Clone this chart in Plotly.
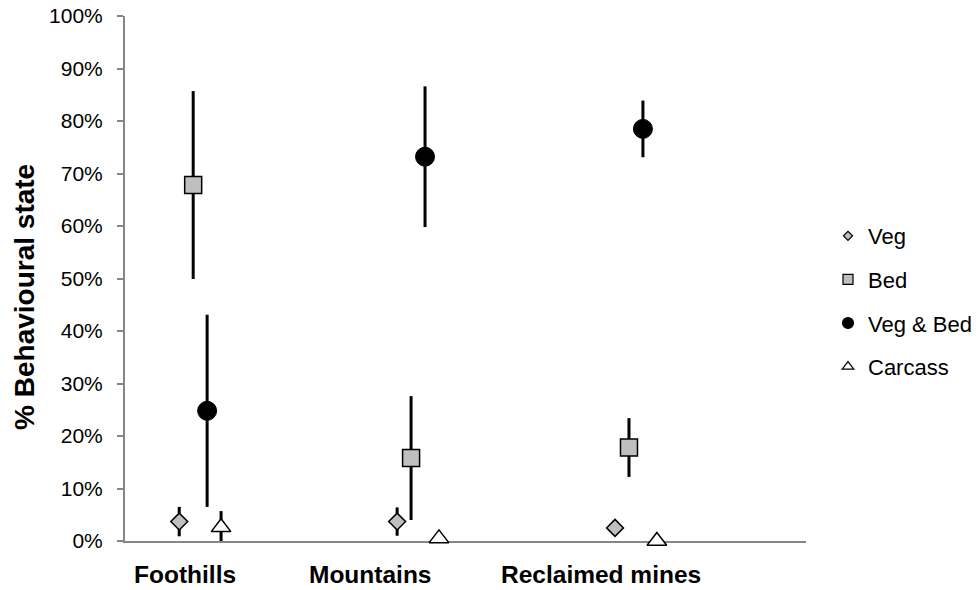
import plotly.graph_objects as go

# ---- data (percent) ----
regions = ["Foothills", "Mountains", "Reclaimed mines"]
region_index = [1, 2, 3]
series_names = ["Veg", "Bed", "Veg & Bed", "Carcass"]
series_offsets = [-0.096, -0.032, 0.032, 0.096]

veg_mean = [3.7, 3.7, 2.5]
veg_err = [2.8, 2.7, 0.8]
bed_mean = [67.8, 15.8, 17.8]
bed_err = [17.9, 11.8, 5.6]
vegbed_mean = [24.8, 73.2, 78.5]
vegbed_err = [18.3, 13.4, 5.4]
carcass_mean = [2.6, 0.5, 0.0]
carcass_err = [3.1, 0.0, 0.0]

label_positions = [0.930, 1.782, 2.840]  # category label centres on x scale
y_ticks = list(range(0, 101, 10))
y_tick_text = [f"{v}%" for v in y_ticks]

means = [veg_mean, bed_mean, vegbed_mean, carcass_mean]
errs = [veg_err, bed_err, vegbed_err, carcass_err]

styles = [
    dict(symbol="diamond", size=13, color="#BFBFBF", lw=1.5, lsize=7),
    dict(symbol="square", size=17, color="#BFBFBF", lw=1.5, lsize=10),
    dict(symbol="circle", size=19, color="#000000", lw=1, lsize=11),
    dict(symbol="triangle-up", size=17, color="#FFFFFF", lw=1.5, lsize=10),
]

FONT = "Liberation Sans, Arial, sans-serif"
fig = go.Figure()

for name, off, m, e, st in zip(series_names, series_offsets, means, errs, styles):
    xs = [r + off for r in region_index]
    fig.add_trace(go.Scatter(
        x=xs, y=m, mode="markers", name=name, showlegend=False,
        cliponaxis=False,
        marker=dict(symbol=st["symbol"], size=st["size"], color=st["color"],
                    line=dict(color="#000000", width=st["lw"])),
        error_y=dict(type="data", array=e, visible=True, color="#000000",
                     thickness=3, width=0),
    ))

# legend entries (smaller symbols, as in the reference)
for i, (name, st) in enumerate(zip(series_names, styles)):
    fig.add_trace(go.Scatter(
        x=[None], y=[None], mode="markers", name=name, legendgroup=f"g{i}",
        marker=dict(symbol=st["symbol"], size=st["lsize"], color=st["color"],
                    line=dict(color="#000000", width=1.2)),
    ))

for lbl, xp in zip(regions, label_positions):
    fig.add_annotation(x=xp, xref="x", y=0, yref="paper", yshift=-33,
                       text=f"<b>{lbl}</b>", showarrow=False,
                       font=dict(family=FONT, size=24.5, color="#000000"),
                       xanchor="center", yanchor="middle")

# y-axis title as rotated text
fig.add_annotation(x=-0.1468, xref="paper", y=0.465, yref="paper",
                   text="<b>% Behavioural state</b>", showarrow=False,
                   textangle=-90, font=dict(family=FONT, size=28, color="#000000"),
                   xanchor="center", yanchor="middle")

fig.update_layout(
    width=980, height=590,
    margin=dict(l=125, r=174, t=16, b=49, autoexpand=False),
    paper_bgcolor="white", plot_bgcolor="white",
    font=dict(family=FONT, size=21, color="#000000"),
    showlegend=True,
    legend=dict(x=1.0323, xanchor="left", y=0.621, yanchor="top",
                traceorder="grouped", tracegroupgap=12,
                font=dict(family=FONT, size=22, color="#000000"),
                bgcolor="rgba(0,0,0,0)"),
    xaxis=dict(range=[0.6551, 3.7804], showline=True, linecolor="#868686",
               linewidth=2, showgrid=False, zeroline=False, ticks="",
               showticklabels=False, layer="below traces", fixedrange=True,
               automargin=False),
    yaxis=dict(range=[0, 100], tickmode="array", tickvals=y_ticks,
               ticktext=y_tick_text,
               showline=True, linecolor="#868686", linewidth=2,
               ticks="outside", ticklen=6, tickwidth=2, tickcolor="#868686",
               showgrid=False, zeroline=False,
               tickfont=dict(family=FONT, size=21, color="#000000"),
               ticklabelstandoff=10, ticklabeloverflow="allow",
               layer="below traces", fixedrange=True, automargin=False),
)

# remove the browser's default page margin so the figure sits at the window origin
fig.write_html("out.html", config={"displayModeBar": False},
               post_script="document.body.style.margin='0px';")
